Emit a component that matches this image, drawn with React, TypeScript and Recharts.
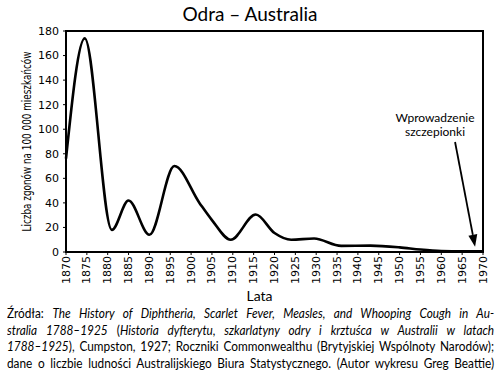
import { LineChart, Line, XAxis, YAxis, ReferenceArea, ReferenceLine, Label } from "recharts";

// Measles deaths per 100 000 inhabitants, Australia
const years = [1870, 1874.5, 1881, 1885, 1890, 1896, 1902, 1905, 1909.5, 1915.5, 1920, 1924, 1929.5, 1936, 1943, 1950, 1955, 1960, 1965, 1970];
const deaths = [76, 174, 18, 42, 14, 70, 40, 26, 10, 30.5, 15.5, 10, 11, 5, 5.2, 3.8, 2, 0.8, 0.5, 0.5];

const xTicks = [1870, 1875, 1880, 1885, 1890, 1895, 1900, 1905, 1910, 1915, 1920, 1925, 1930, 1935, 1940, 1945, 1950, 1955, 1960, 1965, 1970];
const yTicks = [0, 20, 40, 60, 80, 100, 120, 140, 160, 180];

// vaccine annotation arrow (start / tip in data units)
const arrowFrom = { year: 1963.3, value: 89.6 };
const arrowTo = { year: 1968.1, value: 4.3 };
const arrowText = ["Wprowadzenie", "szczepionki"];

const FONT = "Lato, 'Open Sans', sans-serif";
const TICK_FONT = "'DejaVu Sans', Verdana, sans-serif";

const data = years.map((year, i) => ({ year, deaths: deaths[i] }));

function YearTick({ x, y, payload }: any) {
  return (
    <text
      x={x}
      y={y}
      transform={`rotate(-90, ${x}, ${y})`}
      textAnchor="end"
      dominantBaseline="central"
      fontFamily={TICK_FONT}
      fontSize={11}
      fill="#000"
    >
      {payload.value}
    </text>
  );
}

function ArrowShape(props: any) {
  const { x1, y1, x2, y2 } = props;
  const dx = x2 - x1;
  const dy = y2 - y1;
  const len = Math.sqrt(dx * dx + dy * dy);
  const ux = dx / len;
  const uy = dy / len;
  const headLen = 12;
  const headW = 4.5;
  const bx = x2 - ux * headLen;
  const by = y2 - uy * headLen;
  const pts = `${x2},${y2} ${bx - uy * headW},${by + ux * headW} ${bx + uy * headW},${by - ux * headW}`;
  return (
    <g>
      <line x1={x1} y1={y1} x2={bx} y2={by} stroke="#000" strokeWidth={1.8} />
      <polygon points={pts} fill="#000" />
      {arrowText.map((t, i) => (
        <text
          key={t}
          x={x1 - 20}
          y={y1 - 20 + i * 14}
          textAnchor="middle"
          fontFamily={FONT}
          fontSize={12}
          fill="#000"
        >
          {t}
        </text>
      ))}
    </g>
  );
}

const lineStyle = { textAlign: "justify" as const, textAlignLast: "justify" as const };

export default function App() {
  return (
    <div
      style={{
        position: "absolute",
        left: 0,
        top: 0,
        width: 500,
        height: 376,
        background: "#fff",
        overflow: "hidden",
      }}
    >
      <div
        style={{
          position: "absolute",
          top: 2,
          width: 500,
          textAlign: "center",
          fontFamily: FONT,
          fontSize: 19,
          lineHeight: "24px",
        }}
      >
        Odra – Australia
      </div>
      <LineChart
        width={500}
        height={304}
        data={data}
        margin={{ top: 31, right: 17, bottom: 0, left: 0 }}
      >
        <XAxis
          dataKey="year"
          type="number"
          domain={[1870, 1970]}
          ticks={xTicks}
          interval={0}
          tick={<YearTick />}
          tickSize={3}
          tickMargin={1}
          axisLine={{ stroke: "#000", strokeWidth: 2 }}
          tickLine={{ stroke: "#000" }}
          height={52}
        >
          <Label
            content={({ viewBox }: any) => (
              <text
                x={viewBox.x + viewBox.width / 2 - 15}
                y={viewBox.y + 43}
                textAnchor="middle"
                dominantBaseline="central"
                fontFamily={FONT}
                fontSize={14}
                fill="#000"
              >
                Lata
              </text>
            )}
          />
        </XAxis>
        <YAxis
          type="number"
          domain={[0, 180]}
          ticks={yTicks}
          interval={0}
          width={66}
          tickSize={3}
          tickMargin={4}
          tick={{ fill: "#000", fontSize: 11, fontFamily: TICK_FONT }}
          axisLine={{ stroke: "#000", strokeWidth: 2 }}
          tickLine={{ stroke: "#000" }}
        >
          <Label
            content={({ viewBox }: any) => {
              const cy = viewBox.y + viewBox.height / 2;
              return (
                <text
                  x={27}
                  y={cy}
                  transform={`rotate(-90, 27, ${cy})`}
                  textAnchor="middle"
                  dominantBaseline="central"
                  fontFamily="'DejaVu Sans Condensed', 'Liberation Sans Narrow', sans-serif"
                  fontSize={12}
                  textLength={180}
                  lengthAdjust="spacingAndGlyphs"
                  fill="#000"
                >
                  Liczba zgonów na 100 000 mieszkańców
                </text>
              );
            }}
          />
        </YAxis>
        <ReferenceArea
          x1={1870}
          x2={1970}
          y1={0}
          y2={180}
          fill="none"
          stroke="#000"
          strokeWidth={2}
          ifOverflow="visible"
        />
        <Line
          type="monotone"
          dataKey="deaths"
          stroke="#000"
          strokeWidth={2.6}
          dot={false}
          activeDot={false}
          isAnimationActive={false}
        />
        <ReferenceLine
          segment={[
            { x: arrowFrom.year, y: arrowFrom.value },
            { x: arrowTo.year, y: arrowTo.value },
          ]}
          ifOverflow="visible"
          shape={ArrowShape}
        />
      </LineChart>
      <div
        style={{
          position: "absolute",
          left: 7,
          top: 305,
          width: 556,
          transform: "scaleX(0.876)",
          transformOrigin: "0 0",
          fontFamily: FONT,
          fontSize: 13.5,
          lineHeight: "16.7px",
          color: "#000",
        }}
      >
        <div style={lineStyle}>
          Źródła: <i>The History of Diphtheria, Scarlet Fever, Measles, and Whooping Cough in Au-</i>
        </div>
        <div style={lineStyle}>
          <i>stralia 1788–1925</i> (<i>Historia dyfterytu, szkarlatyny odry i krztuśca w Australii w latach</i>
        </div>
        <div style={lineStyle}>
          <i>1788–1925</i>), Cumpston, 1927; Roczniki Commonwealthu (Brytyjskiej Wspólnoty Narodów);
        </div>
        <div style={lineStyle}>
          dane o liczbie ludności Australijskiego Biura Statystycznego. (Autor wykresu Greg Beattie)
        </div>
      </div>
    </div>
  );
}
